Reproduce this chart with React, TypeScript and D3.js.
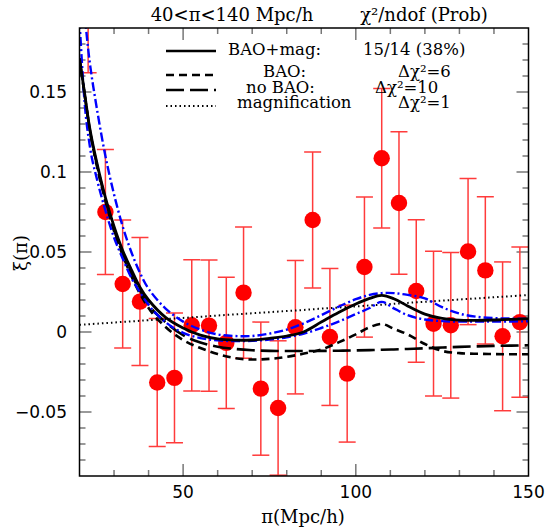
import React from "react";
import * as d3 from "d3";

// ---- measured data (pi in Mpc/h, xi, 1-sigma error) ----
const dataPi = [22.5, 27.5, 32.5, 37.5, 42.5, 47.5, 52.5, 57.5, 62.5, 67.5, 72.5, 77.5, 82.5, 87.5, 92.5, 97.5, 102.5, 107.5, 112.5, 117.5, 122.5, 127.5, 132.5, 137.5, 142.5, 147.5];
const dataXi = [0.202, 0.075, 0.030, 0.019, -0.0316, -0.0287, 0.0042, 0.0040, -0.0068, 0.0246, -0.0354, -0.0475, 0.0030, 0.0700, -0.0031, -0.026, 0.0406, 0.1086, 0.0806, 0.0256, 0.0052, 0.0042, 0.0503, 0.0385, -0.0027, 0.0062];
const dataErr = [0.040, 0.039, 0.040, 0.040, 0.040, 0.0405, 0.041, 0.041, 0.041, 0.041, 0.0416, 0.042, 0.0417, 0.0425, 0.0428, 0.0428, 0.0438, 0.0436, 0.0445, 0.0445, 0.0452, 0.0455, 0.0457, 0.046, 0.0465, 0.047];

// ---- model curves on a common pi grid ----
const modelPi = [20, 21.5, 23, 25, 27.5, 30, 32.5, 35, 37.5, 40, 45, 50, 55, 60, 65, 70, 75, 80, 85, 90, 95, 100, 104, 107.5, 111, 115, 120, 125, 130, 135, 140, 145, 150];
const baoMag = [0.171, 0.149, 0.127, 0.106, 0.084, 0.066, 0.051, 0.039, 0.028, 0.020, 0.009, 0.0025, -0.002, -0.0043, -0.0051, -0.005, -0.004, -0.0025, 0.0002, 0.0062, 0.0122, 0.0175, 0.021, 0.0229, 0.0208, 0.0163, 0.0112, 0.0085, 0.0074, 0.0073, 0.0075, 0.0079, 0.0084];
const baoOnly = [0.171, 0.148, 0.126, 0.104, 0.082, 0.063, 0.048, 0.035, 0.024, 0.015, 0.003, -0.005, -0.010, -0.0138, -0.0163, -0.0172, -0.0168, -0.0155, -0.0135, -0.011, -0.0065, -0.0015, 0.003, 0.005, 0.002, -0.0015, -0.0075, -0.0118, -0.0132, -0.0136, -0.0138, -0.0139, -0.0139];
const noBao = [0.171, 0.148, 0.126, 0.105, 0.083, 0.064, 0.049, 0.036, 0.026, 0.017, 0.006, -0.002, -0.0065, -0.0092, -0.0106, -0.0114, -0.0118, -0.0119, -0.0119, -0.0118, -0.0117, -0.0115, -0.0113, -0.0111, -0.0109, -0.0106, -0.0102, -0.0097, -0.0093, -0.009, -0.0087, -0.0085, -0.0083];
const magnif = [0.0045, 0.0047, 0.0049, 0.0052, 0.0056, 0.0059, 0.0063, 0.0066, 0.007, 0.0074, 0.0081, 0.0088, 0.0095, 0.0103, 0.011, 0.0117, 0.0124, 0.0131, 0.0138, 0.0146, 0.0153, 0.016, 0.0166, 0.0171, 0.0176, 0.0182, 0.0189, 0.0196, 0.0203, 0.021, 0.0217, 0.0224, 0.0231];
const blueUpper = [0.23, 0.198, 0.168, 0.14, 0.11, 0.086, 0.066, 0.05, 0.037, 0.027, 0.0145, 0.0065, 0.0015, -0.0015, -0.0025, -0.0025, -0.001, 0.0015, 0.0055, 0.0105, 0.0158, 0.0205, 0.0232, 0.0243, 0.0243, 0.0232, 0.021, 0.0155, 0.0115, 0.0095, 0.0087, 0.0084, 0.0082];
const blueLower = [0.195, 0.143, 0.116, 0.096, 0.076, 0.059, 0.046, 0.034, 0.025, 0.017, 0.006, -0.0005, -0.0038, -0.0052, -0.0057, -0.0055, -0.0047, -0.0033, -0.001, 0.0025, 0.0065, 0.0112, 0.015, 0.0188, 0.0148, 0.0105, 0.0078, 0.0068, 0.0065, 0.0065, 0.0065, 0.0066, 0.0067];

// ---- axis ticks ----
const xMajor = [50, 100, 150];
const xMinor = [30, 40, 50, 60, 70, 80, 90, 100, 110, 120, 130, 140];
const yMajor = [-0.05, 0, 0.05, 0.1, 0.15];
const yMajorLabels = ["\u22120.05", "0", "0.05", "0.1", "0.15"];
const yMinor = [-0.08, -0.07, -0.06, -0.05, -0.04, -0.03, -0.02, -0.01, 0, 0.01, 0.02, 0.03, 0.04, 0.05, 0.06, 0.07, 0.08, 0.09, 0.1, 0.11, 0.12, 0.13, 0.14, 0.15, 0.16, 0.17, 0.18];

const W = 550;
const H = 529;
const L = 79.5, R = 528.5, T = 28, B = 476;

export default function App() {
  const x = d3.scaleLinear().domain([20, 150]).range([L, R]);
  const y = d3.scaleLinear().domain([-0.09, 0.19]).range([B, T]);
  const line = d3
    .line<number>()
    .x((_, i) => x(modelPi[i]))
    .y((d) => y(d))
    .curve(d3.curveCatmullRom.alpha(0.5));
  const lineLin = d3
    .line<number>()
    .x((_, i) => x(modelPi[i]))
    .y((d) => y(d))
    .curve(d3.curveMonotoneX);

  const serif = "'DejaVu Serif', serif";
  const sans = "'DejaVu Sans', sans-serif";
  const tickCol = "#777";
  const cap = 8.5;

  return (
    <svg width={W} height={H} style={{ position: "absolute", left: 0, top: 0, background: "#fff" }}>
      <defs>
        <clipPath id="plot">
          <rect x={L} y={T} width={R - L} height={B - T} />
        </clipPath>
      </defs>

      {/* ticks */}
      <g stroke={tickCol} strokeWidth={1.5}>
        {xMinor.map((v) => {
          const len = xMajor.includes(v) ? 12 : 6;
          return (
            <g key={"xt" + v}>
              <line x1={x(v)} x2={x(v)} y1={B} y2={B - len} />
              <line x1={x(v)} x2={x(v)} y1={T} y2={T + len} />
            </g>
          );
        })}
        {yMinor.map((v) => {
          const len = yMajor.some((m) => Math.abs(m - v) < 1e-9) ? 12 : 6;
          return (
            <g key={"yt" + v}>
              <line x1={L} x2={L + len} y1={y(v)} y2={y(v)} />
              <line x1={R} x2={R - len} y1={y(v)} y2={y(v)} />
            </g>
          );
        })}
      </g>

      {/* data */}
      <g clipPath="url(#plot)">
        {dataPi.map((p, i) => {
          const cx = x(p);
          const y1 = y(dataXi[i] + dataErr[i]);
          const y0 = y(dataXi[i] - dataErr[i]);
          return (
            <g key={"d" + i} stroke="#ff3b3b" strokeWidth={1.5}>
              <line x1={cx} x2={cx} y1={y1} y2={y0} />
              <line x1={cx - cap} x2={cx + cap} y1={y1} y2={y1} />
              <line x1={cx - cap} x2={cx + cap} y1={y0} y2={y0} />
            </g>
          );
        })}
        {dataPi.map((p, i) => (
          <circle key={"c" + i} cx={x(p)} cy={y(dataXi[i])} r={8.2} fill="#ff0000" />
        ))}

        {/* model curves */}
        <path d={line(magnif) || ""} fill="none" stroke="#000" strokeWidth={2} strokeDasharray="1.5 3" />
        <path d={lineLin(noBao) || ""} fill="none" stroke="#000" strokeWidth={2.6} strokeDasharray="18 6" />
        <path d={lineLin(baoOnly) || ""} fill="none" stroke="#000" strokeWidth={2.6} strokeDasharray="8 5" />
        <path d={line(blueUpper) || ""} fill="none" stroke="#0000ff" strokeWidth={2.4} strokeDasharray="9 3 2 3" />
        <path d={lineLin(blueLower) || ""} fill="none" stroke="#0000ff" strokeWidth={2.4} strokeDasharray="9 3 2 3" />
        <path d={line(baoMag) || ""} fill="none" stroke="#000" strokeWidth={2.8} />
      </g>

      {/* frame */}
      <rect x={L} y={T} width={R - L} height={B - T} fill="none" stroke="#000" strokeWidth={1.5} />

      {/* tick labels */}
      <g fontFamily={sans} fontSize={17} fill="#000">
        {yMajor.map((v, i) => (
          <text key={"yl" + v} x={67} y={y(v)} dy="0.36em" textAnchor="end">
            {yMajorLabels[i]}
          </text>
        ))}
        {xMajor.map((v) => (
          <text key={"xl" + v} x={x(v)} y={498} textAnchor="middle">
            {v}
          </text>
        ))}
      </g>

      {/* axis titles */}
      <text x={303} y={523} textAnchor="middle" fontFamily={serif} fontSize={18}>
        {"\u03c0(Mpc/h)"}
      </text>
      <text transform="translate(27,253) rotate(-90)" textAnchor="middle" fontFamily={serif} fontSize={18}>
        {"\u03be(\u03c0)"}
      </text>

      {/* top title */}
      <g fontFamily={serif} fontSize={18}>
        <text x={232} y={21} textAnchor="middle">{"40<\u03c0<140 Mpc/h"}</text>
        <text x={424} y={21} textAnchor="middle">{"\u03c7\u00b2/ndof (Prob)"}</text>
      </g>

      {/* legend */}
      <g fontFamily={serif} fontSize={16.5}>
        <line x1={166} x2={216} y1={51} y2={51} stroke="#000" strokeWidth={2.6} />
        <text x={228} y={55}>BAO+mag:</text>
        <text x={363} y={55}>15/14 (38%)</text>

        <line x1={166} x2={216} y1={75} y2={75} stroke="#000" strokeWidth={2.6} strokeDasharray="8 5" />
        <text x={263} y={77}>BAO:</text>
        <text x={398} y={77}>{"\u0394\u03c7\u00b2=6"}</text>

        <line x1={166} x2={216} y1={90} y2={90} stroke="#000" strokeWidth={2.6} strokeDasharray="18 6" />
        <text x={246} y={93}>no BAO:</text>
        <text x={375} y={93}>{"\u0394\u03c7\u00b2=10"}</text>

        <line x1={166} x2={216} y1={106} y2={106} stroke="#000" strokeWidth={2} strokeDasharray="1.5 3" />
        <text x={237} y={108}>magnification</text>
        <text x={398} y={108}>{"\u0394\u03c7\u00b2=1"}</text>
      </g>
    </svg>
  );
}
